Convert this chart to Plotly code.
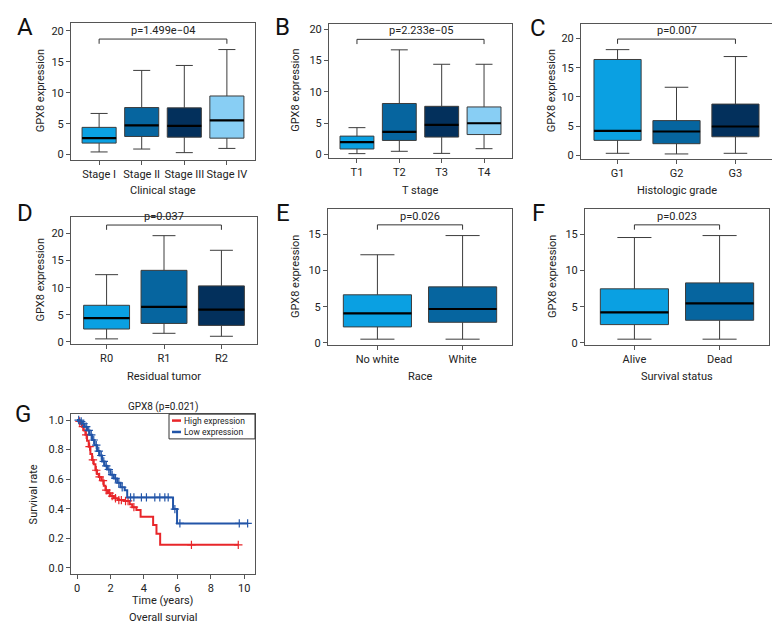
import plotly.graph_objects as go

W, H = 780, 636
FONT = "Roboto, Liberation Sans, sans-serif"

# ---------------- data ----------------
stage_cats = ["Stage I", "Stage II", "Stage III", "Stage IV"]
stage_low = [0.43, 0.90, 0.32, 1.00]
stage_q1 = [1.86, 2.93, 2.82, 2.66]
stage_med = [2.66, 4.73, 4.63, 5.53]
stage_q3 = [4.40, 7.60, 7.55, 9.47]
stage_high = [6.65, 13.6, 14.4, 16.97]
stage_p = "p=1.499e\u221204"

t_cats = ["T1", "T2", "T3", "T4"]
t_low = [0.16, 0.53, 0.20, 0.95]
t_q1 = [0.90, 2.26, 2.80, 3.20]
t_med = [2.00, 3.63, 4.74, 5.00]
t_q3 = [2.95, 8.15, 7.70, 7.60]
t_high = [4.30, 16.7, 14.4, 14.4]
t_p = "p=2.233e\u221205"

grade_cats = ["G1", "G2", "G3"]
grade_low = [0.39, 0.28, 0.39]
grade_q1 = [2.60, 2.03, 3.21]
grade_med = [4.23, 4.11, 4.96]
grade_q3 = [16.4, 5.97, 8.79]
grade_high = [18.08, 11.66, 16.9]
grade_p = "p=0.007"

resid_cats = ["R0", "R1", "R2"]
resid_low = [0.55, 1.58, 1.03]
resid_q1 = [2.37, 3.40, 3.04]
resid_med = [4.38, 6.44, 5.96]
resid_q3 = [6.75, 13.2, 10.33]
resid_high = [12.4, 19.6, 16.9]
resid_p = "p=0.037"

race_cats = ["No white", "White"]
race_low = [0.5, 0.5]
race_q1 = [2.20, 2.84]
race_med = [4.08, 4.68]
race_q3 = [6.65, 7.75]
race_high = [12.2, 14.86]
race_p = "p=0.026"

status_cats = ["Alive", "Dead"]
status_low = [0.5, 0.5]
status_q1 = [2.52, 3.12]
status_med = [4.22, 5.46]
status_q3 = [7.48, 8.30]
status_high = [14.59, 14.86]
status_p = "p=0.023"

# Kaplan-Meier (GPX8)
km_title = "GPX8 (p=0.021)"
km_names = ["High expression", "Low expression"]
high_time = [0, 0.1, 0.2, 0.3, 0.4, 0.5, 0.6, 0.7, 0.8, 0.9, 1.0, 1.1, 1.2, 1.3, 1.45,
             1.6, 1.7, 1.85, 2.0, 2.2, 2.45, 2.8, 3.15, 3.3, 3.55, 3.8, 4.55, 4.75, 4.97, 9.64]
high_surv = [1.0, 0.99, 0.975, 0.955, 0.93, 0.90, 0.86, 0.82, 0.77, 0.73, 0.70, 0.66, 0.635,
             0.615, 0.59, 0.555, 0.525, 0.505, 0.485, 0.47, 0.458, 0.452, 0.43, 0.41, 0.39,
             0.345, 0.29, 0.23, 0.155, 0.155]
high_censor = [0.15, 0.35, 0.55, 0.75, 0.95, 1.15, 1.35, 1.55, 1.75, 1.95, 2.1, 2.3, 2.5,
               2.65, 2.9, 3.05, 3.4, 6.84, 9.64]

low_time = [0, 0.15, 0.3, 0.45, 0.6, 0.75, 0.9, 1.05, 1.2, 1.35, 1.5, 1.65, 1.8, 2.0, 2.2,
            2.4, 2.6, 2.85, 3.0, 5.74, 5.98, 10.2]
low_surv = [1.0, 0.99, 0.975, 0.955, 0.93, 0.90, 0.865, 0.83, 0.79, 0.76, 0.72, 0.69, 0.665,
            0.63, 0.605, 0.575, 0.545, 0.525, 0.476, 0.397, 0.30, 0.30]
low_censor = [0.1, 0.25, 0.4, 0.55, 0.7, 0.85, 1.0, 1.15, 1.3, 1.45, 1.6, 1.75, 1.9, 2.1,
              2.3, 2.5, 2.7, 3.2, 3.4, 3.85, 4.15, 4.65, 4.95, 5.25, 5.45, 5.85, 6.15, 9.7, 10.2]

box_colors = ["#0AA0E2", "#06659F", "#03305C", "#88CEF4"]
km_colors = ["#E8262A", "#2255A8"]

# ---------------- helpers ----------------
def px_x(x):
    return x / W


def px_y(y):
    return 1 - y / H


fig = go.Figure()
annotations = []
shapes = []
layout_axes = {}

BOX_LINE = "#3c3c3c"
FRAME = "#555555"
TXT = "#222222"
TICKFONT = dict(size=11, color=TXT)


def paper_text(x, y, text, size=11, angle=0, color=TXT, xanchor="center"):
    return dict(x=px_x(x), y=px_y(y), xref="paper", yref="paper", text=text,
                xanchor=xanchor, yanchor="middle", textangle=angle,
                showarrow=False, font=dict(size=size, color=color))


def add_box_panel(idx, cats, low, q1, med, q3, high, ptext, xt, dom_px, yrange, yticks,
                  xtitle, xtitle_y, ytitle_x, letter, letter_xy):
    n = len(cats)
    xa = "x" if idx == 1 else f"x{idx}"
    ya = "y" if idx == 1 else f"y{idx}"
    pos = list(range(1, n + 1))
    for i in range(n):
        fig.add_trace(go.Box(
            x=[pos[i]], q1=[q1[i]], median=[med[i]], q3=[q3[i]],
            lowerfence=[low[i]], upperfence=[high[i]],
            width=0.8, whiskerwidth=0.5, fillcolor=box_colors[i],
            line=dict(color=BOX_LINE, width=1), boxpoints=False, name=cats[i],
            showlegend=False, hoverinfo="skip", xaxis=xa, yaxis=ya))
    # thick black medians
    mx, my = [], []
    for i in range(n):
        mx += [pos[i] - 0.4, pos[i] + 0.4, None]
        my += [med[i], med[i], None]
    fig.add_trace(go.Scatter(x=mx, y=my, mode="lines", line=dict(color="black", width=2.2),
                             showlegend=False, hoverinfo="skip", xaxis=xa, yaxis=ya))
    # significance bracket
    top = max(high)
    b = 1.1 * top
    d = 0.045 * top
    fig.add_trace(go.Scatter(x=[1, 1, n, n], y=[b - d, b, b, b - d], mode="lines",
                             line=dict(color="#333333", width=1), showlegend=False,
                             hoverinfo="skip", xaxis=xa, yaxis=ya))
    annotations.append(dict(x=(1 + n) / 2, y=b, xref=xa, yref=ya, text=ptext,
                            showarrow=False, xanchor="center", yanchor="bottom", yshift=0,
                            font=dict(size=11, color=TXT)))
    x0, x1, y0, y1 = dom_px
    key_x = "xaxis" if idx == 1 else f"xaxis{idx}"
    key_y = "yaxis" if idx == 1 else f"yaxis{idx}"
    layout_axes[key_x] = dict(domain=[px_x(x0), px_x(x1)], anchor=ya, range=xt,
                              tickmode="array", tickvals=pos, ticktext=cats, tickangle=0,
                              showline=True, mirror=True, linecolor=FRAME, linewidth=1,
                              ticks="outside", ticklen=4, tickcolor=FRAME,
                              showgrid=False, zeroline=False, tickfont=TICKFONT)
    layout_axes[key_y] = dict(domain=[px_y(y1), px_y(y0)], anchor=xa, range=yrange,
                              tickmode="array", tickvals=yticks,
                              showline=True, mirror=True, linecolor=FRAME, linewidth=1,
                              ticks="outside", ticklen=4, tickcolor=FRAME,
                              showgrid=False, zeroline=False, tickfont=TICKFONT)
    annotations.append(paper_text((x0 + x1) / 2, xtitle_y, xtitle))
    annotations.append(paper_text(ytitle_x, (y0 + y1) / 2, "GPX8 expression", angle=-90))
    annotations.append(paper_text(letter_xy[0], letter_xy[1], letter, size=24, color="#111"))


add_box_panel(1, stage_cats, stage_low, stage_q1, stage_med, stage_q3, stage_high, stage_p,
              [0.34, 4.66], (63, 247, 14, 152), [-0.8, 21.28], [0, 5, 10, 15, 20],
              "Clinical stage", 183, 32, "A", (17, 18))
add_box_panel(2, t_cats, t_low, t_q1, t_med, t_q3, t_high, t_p,
              [0.34, 4.66], (321, 504, 15, 150), [-0.47, 20.84], [0, 5, 10, 15, 20],
              "T stage", 183, 288, "B", (274, 18))
add_box_panel(3, grade_cats, grade_low, grade_q1, grade_med, grade_q3, grade_high, grade_p,
              [0.38, 3.62], (573, 764, 15, 151), [-0.51, 22.48], [0, 5, 10, 15, 20],
              "Histologic grade", 183, 543, "C", (530, 19))
add_box_panel(4, resid_cats, resid_low, resid_q1, resid_med, resid_q3, resid_high, resid_p,
              [0.38, 3.62], (63, 249, 210, 338), [-0.36, 23.04], [0, 5, 10, 15, 20],
              "Residual tumor", 371, 32, "D", (17, 206))
add_box_panel(5, race_cats, race_low, race_q1, race_med, race_q3, race_high, race_p,
              [0.42, 2.58], (320, 504, 202, 339), [-0.28, 18.53], [0, 5, 10, 15],
              "Race", 371, 288, "E", (275, 206))
add_box_panel(6, status_cats, status_low, status_q1, status_med, status_q3, status_high,
              status_p, [0.42, 2.58], (577, 761, 202, 339), [-0.28, 18.53], [0, 5, 10, 15],
              "Survival status", 371, 545, "F", (530, 206))


# ---------------- Kaplan-Meier ----------------
def step_at(times, surv, t):
    v = surv[0]
    for tt, ss in zip(times, surv):
        if tt <= t:
            v = ss
    return v


km_sets = [(km_names[0], km_colors[0], high_time, high_surv, high_censor),
           (km_names[1], km_colors[1], low_time, low_surv, low_censor)]
for name, col, tms, sv, cens in km_sets:
    fig.add_trace(go.Scatter(x=tms, y=sv, mode="lines", line=dict(color=col, width=2, shape="hv"),
                             name=name, showlegend=False, xaxis="x7", yaxis="y7"))
    fig.add_trace(go.Scatter(x=cens, y=[step_at(tms, sv, c) for c in cens], mode="markers",
                             marker=dict(symbol="cross-thin", size=6,
                                         line=dict(color=col, width=1.2)),
                             name=name, showlegend=False, hoverinfo="skip",
                             xaxis="x7", yaxis="y7"))

layout_axes["xaxis7"] = dict(domain=[px_x(63), px_x(247)], anchor="y7", range=[-0.36, 10.64],
                             tickmode="array", tickvals=[0, 2, 4, 6, 8, 10], tickangle=0,
                             showline=True, mirror=True, linecolor=FRAME, linewidth=1,
                             ticks="outside", ticklen=4, tickcolor=FRAME,
                             showgrid=False, zeroline=False, tickfont=TICKFONT)
layout_axes["yaxis7"] = dict(domain=[px_y(570), px_y(409)], anchor="x7", range=[-0.04, 1.04],
                             tickmode="array", tickvals=[0, 0.2, 0.4, 0.6, 0.8, 1.0],
                             ticktext=["0.0", "0.2", "0.4", "0.6", "0.8", "1.0"],
                             showline=True, mirror=True, linecolor=FRAME, linewidth=1,
                             ticks="outside", ticklen=4, tickcolor=FRAME,
                             showgrid=False, zeroline=False, tickfont=TICKFONT)

annotations += [
    paper_text(155, 402, km_title, size=10),
    paper_text(155, 597, "Time (years)"),
    paper_text(155, 614, "Overall survial"),
    paper_text(25, 490, "Survival rate", angle=-90),
    paper_text(15, 409, "G", size=24, color="#111"),
]

# compact legend box (top-right inside the survival panel)
shapes.append(dict(type="rect", xref="paper", yref="paper",
                   x0=px_x(161), x1=px_x(247), y0=px_y(434), y1=px_y(409),
                   line=dict(color="#333", width=1), fillcolor="white", layer="above"))
for k, (nm, col) in enumerate(zip(km_names, km_colors)):
    yy = 415.5 + 11.5 * k
    shapes.append(dict(type="line", xref="paper", yref="paper",
                       x0=px_x(164), x1=px_x(173), y0=px_y(yy), y1=px_y(yy),
                       line=dict(color=col, width=2.5), layer="above"))
    annotations.append(paper_text(174, yy, nm, size=8.5, xanchor="left"))

fig.update_layout(
    width=W, height=H, margin=dict(l=0, r=0, t=0, b=0),
    paper_bgcolor="white", plot_bgcolor="white",
    font=dict(family=FONT, size=11, color=TXT),
    annotations=annotations, shapes=shapes, showlegend=False,
    **layout_axes,
)

fig.write_html("out.html")
